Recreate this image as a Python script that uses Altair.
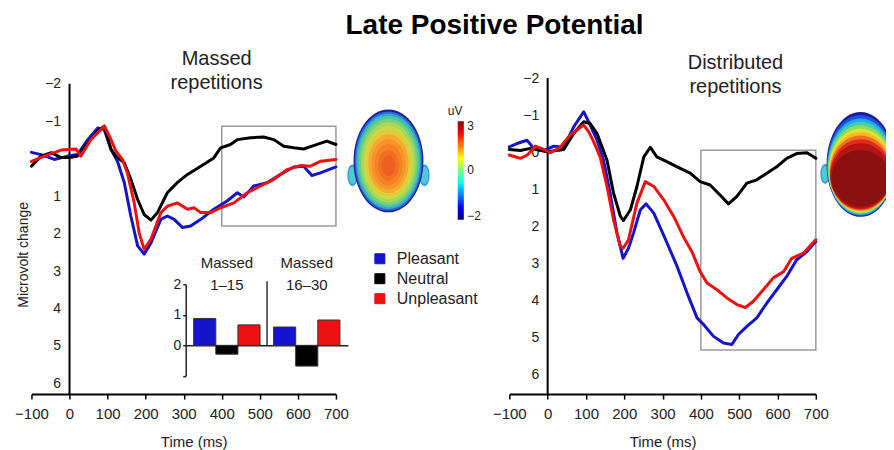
import altair as alt
import pandas as pd

FONT = "Liberation Sans"
INK = "#222222"

conditions = ["Pleasant", "Neutral", "Unpleasant"]
condition_colors = ["#1414cc", "#000000", "#ee1111"]

# ---------------- Massed repetitions (left panel) ----------------
massed_pleasant_ms = [-100, -75, -40, -5, 21, 48, 74, 91, 109, 126, 144, 161, 179, 196, 214, 240, 257, 275,
                      297, 318, 345, 379, 414, 441, 458, 484, 519, 554, 589, 615, 637, 659, 700]
massed_pleasant_uv = [-0.17, -0.11, 0.02, -0.07, -0.11, -0.51, -0.82, -0.78, -0.25, 0.07, 0.64, 1.53, 2.33,
                      2.55, 2.25, 1.62, 1.53, 1.62, 1.84, 1.80, 1.62, 1.35, 1.13, 0.91, 1.02, 0.73, 0.64,
                      0.42, 0.22, 0.20, 0.45, 0.38, 0.22]
massed_neutral_ms = [-100, -75, -48, -22, 0, 21, 48, 75, 91, 109, 122, 144, 161, 179, 196, 214, 231, 257, 283,
                     310, 345, 379, 397, 423, 441, 476, 510, 537, 563, 589, 615, 641, 676, 700]
massed_neutral_uv = [0.20, -0.07, -0.16, -0.03, -0.03, -0.07, -0.42, -0.75, -0.87, -0.25, -0.07, 0.11, 0.55,
                     1.09, 1.49, 1.64, 1.44, 0.91, 0.64, 0.42, 0.20, -0.02, -0.29, -0.38, -0.51, -0.56, -0.58,
                     -0.51, -0.33, -0.29, -0.26, -0.35, -0.47, -0.38]
massed_unpleasant_ms = [-100, -66, -22, 17, 30, 56, 92, 109, 122, 139, 152, 170, 183, 196, 214, 240, 257, 283,
                        310, 327, 345, 371, 397, 432, 467, 502, 537, 572, 607, 633, 659, 700]
massed_unpleasant_uv = [0.07, -0.07, -0.23, -0.26, -0.07, -0.51, -0.87, -0.51, -0.20, 0.02, 0.38, 1.18, 1.98,
                        2.42, 2.15, 1.44, 1.27, 1.18, 1.35, 1.31, 1.44, 1.44, 1.31, 1.18, 0.91, 0.73, 0.55,
                        0.29, 0.18, 0.20, 0.07, 0.02]

# ---------------- Distributed repetitions (right panel) ----------------
distributed_pleasant_ms = [-100, -80, -54, -36, -10, 16, 42, 68, 94, 111, 129, 146, 163, 181, 197, 211, 224, 242,
                           257, 277, 303, 320, 338, 364, 390, 407, 433, 459, 481, 498, 520, 546, 572, 598, 624,
                           650, 677, 700]
distributed_pleasant_uv = [-0.14, -0.23, -0.32, -0.10, -0.04, -0.16, -0.13, -0.68, -1.09, -0.73, -0.32, 0.22,
                           1.11, 2.19, 2.87, 2.60, 2.19, 1.56, 1.40, 1.65, 2.25, 2.66, 3.09, 3.81, 4.48, 4.66,
                           4.98, 5.16, 5.20, 4.93, 4.71, 4.48, 4.08, 3.72, 3.36, 2.91, 2.69, 2.42]
distributed_neutral_ms = [-100, -71, -45, -2, 42, 68, 94, 111, 129, 155, 172, 190, 198, 216, 233, 251, 268, 285,
                          311, 338, 372, 398, 424, 450, 472, 494, 520, 546, 572, 598, 624, 650, 677, 700]
distributed_neutral_uv = [-0.07, -0.04, -0.10, -0.01, -0.07, -0.50, -0.82, -0.77, -0.50, 0.22, 1.11, 1.74, 1.85,
                          1.56, 0.93, 0.13, -0.13, 0.13, 0.26, 0.40, 0.57, 0.80, 0.89, 1.16, 1.40, 1.20, 0.84,
                          0.75, 0.57, 0.40, 0.17, 0.04, 0.02, 0.17]
distributed_unpleasant_ms = [-100, -71, -53, -32, -10, 7, 33, 59, 94, 107, 120, 137, 155, 172, 190, 197, 211, 233,
                             255, 277, 303, 329, 355, 377, 398, 416, 442, 468, 494, 516, 537, 563, 589, 616, 637,
                             668, 700]
distributed_unpleasant_uv = [0.08, 0.17, 0.08, -0.16, -0.07, 0.02, -0.13, -0.46, -0.73, -0.55, -0.28, 0.13, 0.93,
                             1.83, 2.55, 2.60, 2.37, 1.38, 0.80, 0.93, 1.29, 1.74, 2.30, 2.70, 3.23, 3.54, 3.72,
                             3.94, 4.12, 4.20, 4.03, 3.72, 3.40, 3.23, 2.87, 2.73, 2.37]

# ---------------- Inset: mean amplitude in the 400-700 ms window ----------------
inset_blocks = ["Massed 1–15", "Massed 16–30"]
inset_block_labels = ["Massed\n1–15", "Massed\n16–30"]
inset_pleasant = [0.88, 0.60]
inset_neutral = [-0.29, -0.68]
inset_unpleasant = [0.67, 0.83]
inset_ticks = [-1, 0, 1, 2]

# analysis windows (grey boxes)
window_ms = [400, 700]
massed_window_uv = [-0.87, 1.80]
distributed_window_uv = [-0.05, 5.35]

time_ticks = [-100, 0, 100, 200, 300, 400, 500, 600, 700]
uv_ticks = [-2, -1, 0, 1, 2, 3, 4, 5, 6]

# colour bar of the scalp maps
colorbar_labels = ["3", "0", "−2"]
colorbar_label_uv = [-0.87, 0.29, 1.53]
colorbar_stops = [(0.0, "#800000"), (0.125, "#ff0000"), (0.375, "#ffff00"), (0.5, "#80ff80"),
                  (0.625, "#00ffff"), (0.875, "#0000ff"), (1.0, "#000080")]

# ---------------- scalp map decorations (head units: half-height = 1) ----------------
# (cx, cy, rx, ry, colour), drawn outermost first
left_head_bands = [
    (-0.70, 0.28, 0.10, 0.21, "#3a9ad8"), (-0.70, 0.28, 0.075, 0.17, "#50c8d8"),
    (0.70, 0.28, 0.10, 0.21, "#3a9ad8"), (0.70, 0.28, 0.075, 0.17, "#50c8d8"),
    (0, 0.000, 0.680, 1.00, "#1e1e9a"), (0, 0.004, 0.656, 0.965, "#2a64d4"),
    (0, 0.008, 0.632, 0.93, "#30a8d0"), (0, 0.013, 0.605, 0.89, "#48c4a8"),
    (0, 0.019, 0.571, 0.84, "#78d07a"), (0, 0.026, 0.530, 0.78, "#a8d858"),
    (0, 0.035, 0.483, 0.71, "#cada44"), (0, 0.043, 0.435, 0.64, "#e6c838"),
    (0, 0.052, 0.388, 0.57, "#f2aa30"), (0, 0.061, 0.333, 0.49, "#f6942a"),
    (0, 0.072, 0.272, 0.40, "#f68226"), (0, 0.084, 0.204, 0.30, "#f27022"),
    (0, 0.096, 0.136, 0.20, "#ee6020"),
]
right_head_bands = [
    (-0.68, 0.18, 0.09, 0.19, "#3a9ad8"), (-0.68, 0.18, 0.065, 0.15, "#50c8d8"),
    (0, 0.000, 0.650, 1.000, "#1c1c9c"), (0, 0.021, 0.643, 0.963, "#2250e0"),
    (0, 0.045, 0.634, 0.922, "#20a8e8"), (0, 0.069, 0.626, 0.881, "#40d0b0"),
    (0, 0.093, 0.618, 0.840, "#90dc60"), (0, 0.117, 0.610, 0.799, "#e0e430"),
    (0, 0.142, 0.601, 0.758, "#f8b828"), (0, 0.166, 0.593, 0.717, "#f47020"),
    (0, 0.192, 0.584, 0.671, "#e02c1c"), (0, 0.219, 0.575, 0.625, "#b81414"),
    (0, 0.267, 0.558, 0.543, "#8c1010"),
]

# geometry
LEFT_W, RIGHT_W, PANEL_H, GAP = 305, 307, 317, 173.7
left_uv_domain = [-2.165, 6.288]
right_uv_domain = [-2.01, 6.54]
left_head_pos = (838, 0.06, 103)      # ms, µV, height px
right_head_pos = (817, 0.334, 105)
colorbar_ms = [1020, 1036]
colorbar_uv = [-1.0, 1.63]
colorbar_label_ms = 1045
unit_label_pos = (1013, -1.27)


def series_frame(parts):
    rows = []
    for cond, ts, vs in parts:
        for t, v in zip(ts, vs):
            rows.append({"t": t, "uv": v, "cond": cond})
    return pd.DataFrame(rows)


def ellipse_path(cx, cy, rx, ry):
    k = 0.5523
    p = lambda a, b: f"{a:.4f},{b:.4f}"
    return ("M" + p(cx, cy - ry)
            + "C" + p(cx + k * rx, cy - ry) + " " + p(cx + rx, cy - k * ry) + " " + p(cx + rx, cy)
            + "C" + p(cx + rx, cy + k * ry) + " " + p(cx + k * rx, cy + ry) + " " + p(cx, cy + ry)
            + "C" + p(cx - k * rx, cy + ry) + " " + p(cx - rx, cy + k * ry) + " " + p(cx - rx, cy)
            + "C" + p(cx - rx, cy - k * ry) + " " + p(cx - k * rx, cy - ry) + " " + p(cx, cy - ry) + "Z")


color_scale = alt.Scale(domain=conditions, range=condition_colors)


def time_axis(title_x):
    return alt.Axis(values=time_ticks, title="Time (ms)", titleX=title_x, titleY=52.7,
                    titleBaseline="alphabetic", titleFontSize=15, titleFontWeight="normal",
                    labelFontSize=15, labelFlush=False, labelOverlap=False, tickSize=5, tickWidth=1.5,
                    tickColor="#000", domainColor="#000", domainWidth=2, labelPadding=7, grid=False)


def uv_axis(offset, with_title, hide_zero):
    kw = dict(values=uv_ticks, ticks=False, domain=False, offset=offset, labelPadding=9,
              labelFontSize=14, grid=False)
    if with_title:
        kw.update(title="Microvolt change", titleX=-42, titleY=177, titleBaseline="alphabetic",
                  titleFontSize=14, titleFontWeight="normal")
    else:
        kw.update(title="")
    if hide_zero:
        kw["labelExpr"] = "datum.value == 0 ? '' : datum.label"
    return alt.Axis(**kw)


def main_layers(lines_df, window_uv, uv_domain, x_axis, y_axis, bands, head_pos, prefix):
    xs = alt.Scale(domain=[-100, 700], nice=False, zero=False)
    ys = alt.Scale(domain=uv_domain, reverse=True, nice=False, zero=False)
    X = lambda f: alt.X(f, scale=xs, axis=x_axis)
    Y = lambda f: alt.Y(f, scale=ys, axis=y_axis)
    box_df = pd.DataFrame({"t": [window_ms[0]], "t_end": [window_ms[1]],
                           "uv": [window_uv[0]], "uv_bottom": [window_uv[1]]})
    box = alt.Chart(box_df).mark_rect(fillOpacity=0, stroke="#9a9a9a", strokeWidth=1.5).encode(
        x=X("t:Q"), x2="t_end", y=Y("uv:Q"), y2="uv_bottom")
    axis_df = pd.DataFrame({"t": [0], "uv": [-2], "uv_bottom": [uv_domain[1]]})
    yline = alt.Chart(axis_df).mark_rule(color="#000", strokeWidth=2).encode(
        x=X("t:Q"), y=Y("uv:Q"), y2="uv_bottom")
    lines = alt.Chart(lines_df).mark_line(strokeWidth=3, strokeJoin="round", strokeCap="round").encode(
        x=X("t:Q"), y=Y("uv:Q"),
        color=alt.Color("cond:N", scale=color_scale, legend=None),
    )
    t, v, h = head_pos
    ids = [f"{prefix}{i}" for i in range(len(bands))]
    head_df = pd.DataFrame({"band": ids, "t": [t] * len(ids), "uv": [v] * len(ids)})
    head = alt.Chart(head_df).mark_point(filled=True, opacity=1, strokeWidth=0, size=h * h).encode(
        x=X("t:Q"), y=Y("uv:Q"),
        shape=alt.Shape("band:N", scale=alt.Scale(domain=ids, range=[ellipse_path(*b[:4]) for b in bands]),
                        legend=None),
        fill=alt.Fill("band:N", scale=alt.Scale(domain=ids, range=[b[4] for b in bands]), legend=None),
    )
    return [box, yline, lines, head], X, Y


legend = alt.Legend(orient="none", legendX=341, legendY=173.4, title=None, symbolType="square",
                    symbolSize=100, symbolStrokeColor="#333", symbolStrokeWidth=1, labelFontSize=16,
                    labelColor=INK, rowPadding=4, labelOffset=9, padding=0)

# ---------------- left panel ----------------
left_lines = series_frame([
    ("Pleasant", massed_pleasant_ms, massed_pleasant_uv),
    ("Neutral", massed_neutral_ms, massed_neutral_uv),
    ("Unpleasant", massed_unpleasant_ms, massed_unpleasant_uv),
])
left_parts, LX, LY = main_layers(left_lines, massed_window_uv, left_uv_domain, time_axis(162.5),
                                 uv_axis(-38.1, True, True), left_head_bands, left_head_pos, "L")
# legend comes from the line colours (same spec as the bars)
left_parts[2] = left_parts[2].encode(color=alt.Color("cond:N", scale=color_scale, legend=legend))

cbar_df = pd.DataFrame({"t": [colorbar_ms[0]], "t_end": [colorbar_ms[1]],
                        "uv": [colorbar_uv[0]], "uv_bottom": [colorbar_uv[1]]})
gradient = alt.LinearGradient(gradient="linear", x1=0, y1=0, x2=0, y2=1,
                              stops=[alt.GradientStop(offset=o, color=c) for o, c in colorbar_stops])
cbar = alt.Chart(cbar_df).mark_rect(fill=gradient).encode(
    x=LX("t:Q"), x2="t_end", y=LY("uv:Q"), y2="uv_bottom")
cbar_text_df = pd.DataFrame({"label": colorbar_labels, "t": [colorbar_label_ms] * 3, "uv": colorbar_label_uv})
cbar_text = alt.Chart(cbar_text_df).mark_text(align="left", baseline="middle", fontSize=12, color=INK).encode(
    x=LX("t:Q"), y=LY("uv:Q"), text="label:N")
unit_df = pd.DataFrame({"label": ["uV"], "t": [unit_label_pos[0]], "uv": [unit_label_pos[1]]})
unit_text = alt.Chart(unit_df).mark_text(align="center", baseline="middle", fontSize=12, color=INK).encode(
    x=LX("t:Q"), y=LY("uv:Q"), text="label:N")

left_main = alt.layer(*left_parts, cbar, cbar_text, unit_text)

# inset bar chart
inset_rows = []
for cond, vals in zip(conditions, [inset_pleasant, inset_neutral, inset_unpleasant]):
    for blk, val in zip(inset_blocks, vals):
        inset_rows.append({"block": blk, "cond": cond, "mean_uv": val, "zero": 0})
inset_df = pd.DataFrame(inset_rows)

inset_xscale = alt.Scale(domain=inset_blocks, range=[154.5, 317], paddingInner=0.169, paddingOuter=0.1)
inset_yscale = alt.Scale(domain=[-1, 2], range=[298.7, 207], nice=False, zero=False)
inset_xaxis = alt.Axis(orient="bottom", offset=-48.9, ticks=False, labels=False, domainColor="#222",
                       domainWidth=1.5, title="", grid=False)
inset_yaxis = alt.Axis(orient="left", offset=-154.5, values=inset_ticks,
                       labelExpr="datum.value < 0 ? '' : datum.label", tickSize=3, tickWidth=1.5,
                       tickColor="#222", domainColor="#222", domainWidth=1.5, labelFontSize=14,
                       labelPadding=2, title="", grid=False)
IX = lambda f, **kw: alt.X(f, sort=inset_blocks, scale=inset_xscale, axis=inset_xaxis, **kw)
IY = lambda f: alt.Y(f, scale=inset_yscale, axis=inset_yaxis)

bars = alt.Chart(inset_df).mark_bar(stroke="#333", strokeWidth=1).encode(
    x=IX("block:N"),
    xOffset=alt.XOffset("cond:N", sort=conditions,
                        scale=alt.Scale(domain=conditions, paddingInner=0, paddingOuter=0)),
    y=IY("mean_uv:Q"),
    y2="zero:Q",
    color=alt.Color("cond:N", scale=color_scale, legend=legend),
)
sep_df = pd.DataFrame({"block": [inset_blocks[0]], "mean_uv": [0], "top": [2.1]})
sep = alt.Chart(sep_df).mark_rule(color="#333", strokeWidth=1.5, xOffset=7).encode(
    x=IX("block:N", bandPosition=1), y=IY("mean_uv:Q"), y2="top:Q")
blk_df = pd.DataFrame({"block": inset_blocks, "label": inset_block_labels, "mean_uv": [2.70, 2.70]})
blk_text = alt.Chart(blk_df).mark_text(fontSize=15, lineBreak="\n", lineHeight=22, baseline="middle",
                                       color=INK).encode(
    x=IX("block:N"), y=IY("mean_uv:Q"), text="label:N")
inset = alt.layer(bars, sep, blk_text)

left = alt.layer(left_main, inset).resolve_scale(x="independent", y="independent").properties(
    width=LEFT_W, height=PANEL_H,
    title=alt.TitleParams(text=["Massed", "repetitions"], fontSize=20, fontWeight="normal", color=INK,
                          anchor="middle", frame="group", dx=33, offset=-32.3, baseline="alphabetic",
                          lineHeight=24, font=FONT))

# ---------------- right panel ----------------
right_lines = series_frame([
    ("Pleasant", distributed_pleasant_ms, distributed_pleasant_uv),
    ("Neutral", distributed_neutral_ms, distributed_neutral_uv),
    ("Unpleasant", distributed_unpleasant_ms, distributed_unpleasant_uv),
])
right_parts, RX, RY = main_layers(right_lines, distributed_window_uv, right_uv_domain, time_axis(153.5),
                                  uv_axis(-38.4, False, False), right_head_bands, right_head_pos, "R")
right = alt.layer(*right_parts).properties(
    width=RIGHT_W, height=PANEL_H,
    title=alt.TitleParams(text=["Distributed", "repetitions"], fontSize=20, fontWeight="normal", color=INK,
                          anchor="middle", frame="group", dx=73, offset=-41.6, baseline="alphabetic",
                          lineHeight=24, font=FONT))

chart = alt.hconcat(left, right, spacing=GAP, bounds="flush").resolve_scale(
    color="independent", fill="independent", shape="independent"
).properties(
    title=alt.TitleParams(text="Late Positive Potential", fontSize=28, fontWeight="bold", color="#000",
                          anchor="middle", offset=-13, baseline="alphabetic", font=FONT, dx=40),
    padding={"left": 5.5, "top": 2.4, "right": -10, "bottom": 0},
).configure(font=FONT).configure_view(stroke="transparent").configure_axis(
    labelFont=FONT, titleFont=FONT, labelColor=INK, titleColor=INK
).configure_legend(labelFont=FONT).configure_text(font=FONT)

chart.save("out.html", embed_options={"renderer": "svg", "actions": False})
